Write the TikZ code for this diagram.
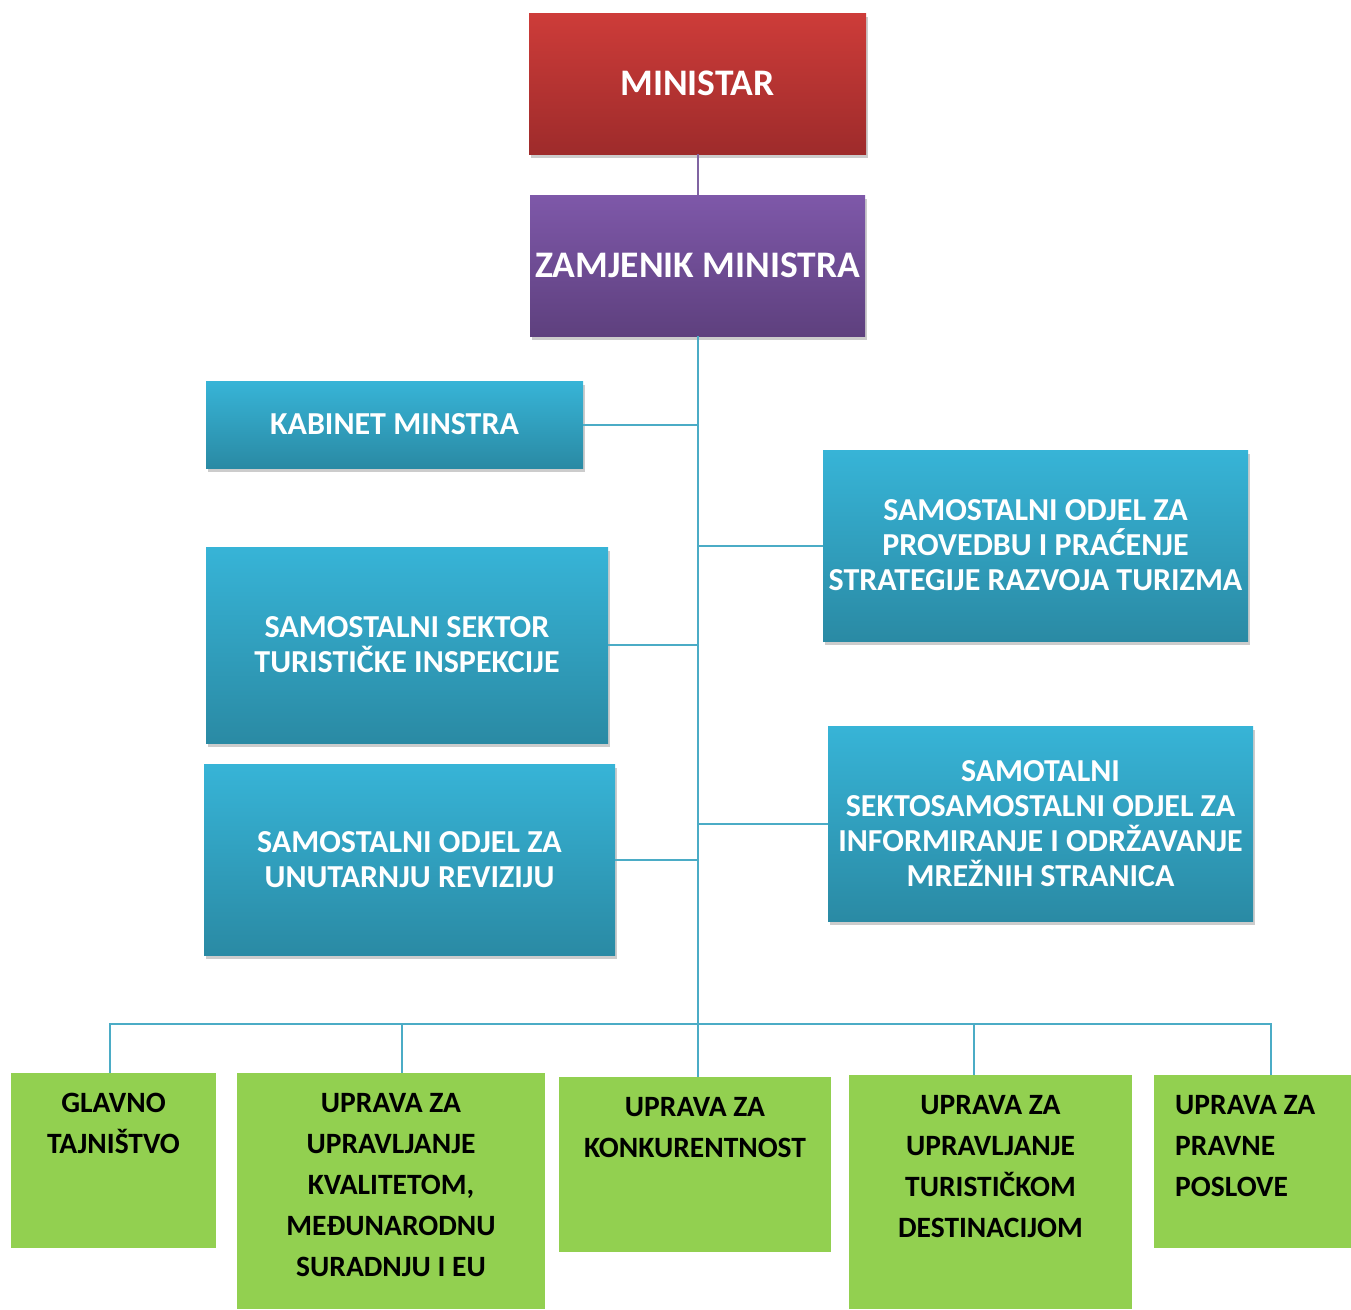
\documentclass[tikz,border=0pt]{standalone}
\usepackage{fontspec}
\setmainfont{Carlito}
\usetikzlibrary{shadows}
\definecolor{redtop}{HTML}{CD3C39}
\definecolor{redbot}{HTML}{9E2B2B}
\definecolor{purtop}{HTML}{7E58A9}
\definecolor{purbot}{HTML}{5E407E}
\definecolor{blutop}{HTML}{37B4D7}
\definecolor{blubot}{HTML}{2A8AA4}
\definecolor{grn}{HTML}{92D050}
\definecolor{teal}{HTML}{4BACC6}
\definecolor{purline}{HTML}{8064A2}
\tikzset{
  shadowbox/.style={inner sep=0pt, outer sep=0pt, draw=none,
    drop shadow={shadow xshift=2pt, shadow yshift=-4pt, opacity=0.2, fill=black}},
  topbox/.style={shadowbox, text=white, align=center,
    font=\fontsize{37.5}{44}\selectfont\bfseries},
  redbox/.style={topbox, top color=redtop, bottom color=redbot},
  purbox/.style={topbox, top color=purtop, bottom color=purbot},
  blubox/.style={shadowbox, top color=blutop, bottom color=blubot, text=white,
    align=center, font=\fontsize{32}{35}\selectfont\bfseries},
  grnbox/.style={inner sep=0pt, outer sep=0pt, fill=grn, draw=none},
  grntext/.style={inner sep=0pt, anchor=north, text=black,
    font=\fontsize{29.5}{41}\selectfont\bfseries},
  conn/.style={draw=teal, line width=2pt},
}
\begin{document}
\begin{tikzpicture}[x=1pt,y=-1pt]
\useasboundingbox (0,0) rectangle (1351,1309);
% top boxes
\node[redbox, minimum width=337pt, minimum height=141pt] (min) at (697.5,83.5) {MINISTAR};
\node[purbox, minimum width=335pt, minimum height=141pt] (zam) at (697.5,265.5) {ZAMJENIK MINISTRA};
% blue boxes
\node[blubox, minimum width=377pt, minimum height=87pt] (kab) at (394.5,424.5) {KABINET MINSTRA};
\node[blubox, minimum width=425pt, minimum height=191pt] (prov) at (1035.5,545.5) {SAMOSTALNI ODJEL ZA\\PROVEDBU I PRAĆENJE\\STRATEGIJE RAZVOJA TURIZMA};
\node[blubox, minimum width=402pt, minimum height=196pt] (sek) at (407,645) {SAMOSTALNI SEKTOR\\TURISTIČKE INSPEKCIJE};
\node[blubox, minimum width=425pt, minimum height=195pt] (info) at (1040.5,823.5) {SAMOTALNI\\SEKTOSAMOSTALNI ODJEL ZA\\INFORMIRANJE I ODRŽAVANJE\\MREŽNIH STRANICA};
\node[blubox, minimum width=411pt, minimum height=191pt] (rev) at (409.5,859.5) {SAMOSTALNI ODJEL ZA\\UNUTARNJU REVIZIJU};
% green boxes
\node[grnbox, minimum width=205pt, minimum height=175pt] (g1) at (113.5,1160.5) {};
\node[grnbox, minimum width=308pt, minimum height=236pt] (g2) at (391,1191) {};
\node[grnbox, minimum width=272pt, minimum height=175pt] (g3) at (695,1164.5) {};
\node[grnbox, minimum width=283pt, minimum height=234pt] (g4) at (990.5,1192) {};
\node[grnbox, minimum width=197pt, minimum height=173pt] (g5) at (1252.5,1161.5) {};
\node[grntext, align=center] (g1t) at ([yshift=-20pt]g1.north) {GLAVNO\\TAJNIŠTVO};
\node[grntext, align=center] (g2t) at ([yshift=-20pt]g2.north) {UPRAVA ZA\\UPRAVLJANJE\\KVALITETOM,\\MEĐUNARODNU\\SURADNJU I EU};
\node[grntext, align=center] (g3t) at ([yshift=-20pt]g3.north) {UPRAVA ZA\\KONKURENTNOST};
\node[grntext, align=center] (g4t) at ([yshift=-20pt]g4.north) {UPRAVA ZA\\UPRAVLJANJE\\TURISTIČKOM\\DESTINACIJOM};
\node[grntext, align=left, anchor=north west] (g5t) at ([xshift=21pt,yshift=-20pt]g5.north west) {UPRAVA ZA\\PRAVNE\\POSLOVE};
% connectors
\draw[draw=purline, line width=2pt] (min.south) -- (zam.north);
\draw[conn] (zam.south) -- (zam.south |- g3.north);
\draw[conn] (kab.east) -- (kab.east -| zam.south);
\draw[conn] (prov.west) -- (prov.west -| zam.south);
\draw[conn] (sek.east) -- (sek.east -| zam.south);
\draw[conn] (info.west) -- (info.west -| zam.south);
\draw[conn] (rev.east) -- (rev.east -| zam.south);
\coordinate (b1) at (110,1024);
\coordinate (b2) at (402,1024);
\coordinate (b4) at (974,1024);
\coordinate (b5) at (1271,1024);
\draw[conn] (b1 |- g1.north) -- (b1) -- (b5) -- (b5 |- g5.north);
\draw[conn] (b2) -- (b2 |- g2.north);
\draw[conn] (b4) -- (b4 |- g4.north);
\end{tikzpicture}
\end{document}
